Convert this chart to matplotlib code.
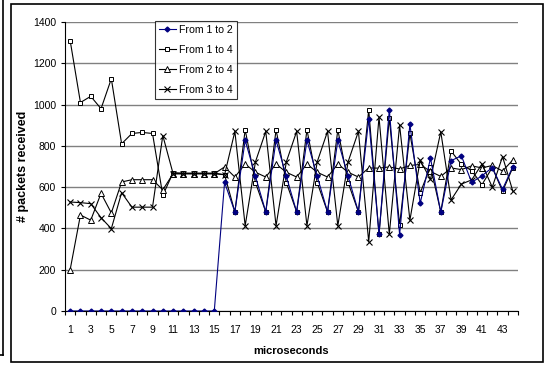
import numpy as np
import matplotlib.pyplot as plt
from matplotlib.lines import Line2D
from matplotlib.patches import Rectangle

plt.rcParams['font.family'] = ['Liberation Sans Narrow', 'Liberation Sans', 'DejaVu Sans']

# DATA
x = np.arange(1, 45)
from_1_to_2 = [0] * 15 + [623, 480, 827, 652, 480, 827, 652, 480, 827, 652, 480, 827, 652, 480,
                          930, 372, 975, 370, 905, 522, 740, 478, 728, 752, 623, 655, 695, 590, 700]
from_1_to_4 = [1310, 1010, 1040, 980, 1125, 810, 860, 865, 860, 560, 670, 668, 668, 668, 668,
               660, 480, 878, 622, 480, 878, 622, 480, 878, 622, 480, 878, 622, 480,
               975, 372, 935, 416, 860, 572, 700, 480, 775, 710, 680, 612, 695, 580, 695]
from_2_to_4 = [200, 465, 440, 570, 475, 625, 636, 636, 636, 587, 665, 665, 665, 665, 665,
               698, 649, 712, 672, 649, 712, 672, 649, 712, 672, 649, 712, 672, 649,
               693, 692, 698, 688, 705, 710, 676, 652, 693, 685, 703, 693, 705, 678, 732]
from_3_to_4 = [528, 525, 520, 452, 399, 573, 503, 503, 503, 850, 665, 665, 665, 665, 665,
               660, 870, 413, 723, 870, 413, 723, 870, 413, 723, 870, 413, 723, 870,
               335, 940, 372, 900, 440, 730, 638, 868, 538, 615, 635, 712, 600, 748, 580]
series_names = ['From 1 to 2', 'From 1 to 4', 'From 2 to 4', 'From 3 to 4']
x_tick_labels = [str(i) for i in range(1, 44, 2)]

fig = plt.figure(figsize=(5.48, 3.65), dpi=100)
ax = fig.add_axes([65 / 548, 1 - 311 / 365, 453 / 548, 289 / 365])

# outer chart border + edge of neighbouring chart on the left
fig.patches.append(Rectangle((11 / 548, 3 / 365), 532 / 548, 358 / 365, transform=fig.transFigure,
                             fill=False, edgecolor='black', linewidth=1.2))
fig.lines.append(Line2D([3 / 548, 3 / 548], [1.0, 10 / 365], transform=fig.transFigure,
                        color='black', linewidth=1.2))
fig.lines.append(Line2D([0, 3 / 548], [10 / 365, 10 / 365], transform=fig.transFigure,
                        color='black', linewidth=1.2))

ax.plot(x, from_1_to_4, color='black', lw=0.8, marker='s', ms=3.5, mfc='white', mec='black',
        mew=0.7, label=series_names[1], zorder=3)
ax.plot(x, from_2_to_4, color='black', lw=0.8, marker='^', ms=3.8, mfc='white', mec='black',
        mew=0.7, label=series_names[2], zorder=3)
ax.plot(x, from_3_to_4, color='black', lw=0.8, marker='x', ms=4, mec='black',
        mew=0.8, label=series_names[3], zorder=3)
ax.plot(x, from_1_to_2, color='#000080', lw=0.8, marker='D', ms=2.5, mfc='#000080', mec='#000080',
        label=series_names[0], zorder=4)

ax.set_xlim(0.5, 44.5)
ax.set_ylim(0, 1400)
ax.set_yticks(range(0, 1401, 200))
ax.set_xticks(range(1, 44, 2))
ax.set_xticklabels(x_tick_labels)
ax.set_xticks(np.arange(0.5, 45, 1), minor=True)
ax.tick_params(axis='x', which='major', length=0, labelsize=7.5, pad=10)
ax.tick_params(axis='x', which='minor', length=3, width=0.8, direction='out')
ax.tick_params(axis='y', length=3, width=0.8, labelsize=7.5)
ax.yaxis.grid(True, color='#808080', linewidth=1)
ax.set_axisbelow(True)
for side in ['top', 'right']:
    ax.spines[side].set_visible(False)
ax.spines['left'].set_linewidth(0.8)
ax.spines['bottom'].set_linewidth(0.8)

ax.set_xlabel('microseconds', fontsize=8, fontweight='bold', labelpad=8)
ax.set_ylabel('# packets received', fontsize=9, fontweight='bold', labelpad=3,
              family=['Liberation Sans', 'DejaVu Sans'])

handles, labels = ax.get_legend_handles_labels()
order = [3, 0, 1, 2]
leg = ax.legend([handles[i] for i in order], [labels[i] for i in order], loc='upper left',
                bbox_to_anchor=(0.198, 1.005), fontsize=7.6, frameon=True, fancybox=False,
                edgecolor='black', handlelength=1.6, handletextpad=0.3, borderpad=0.4,
                labelspacing=0.95, borderaxespad=0)
leg.get_frame().set_linewidth(0.8)

fig.savefig('out.png', dpi=100)
